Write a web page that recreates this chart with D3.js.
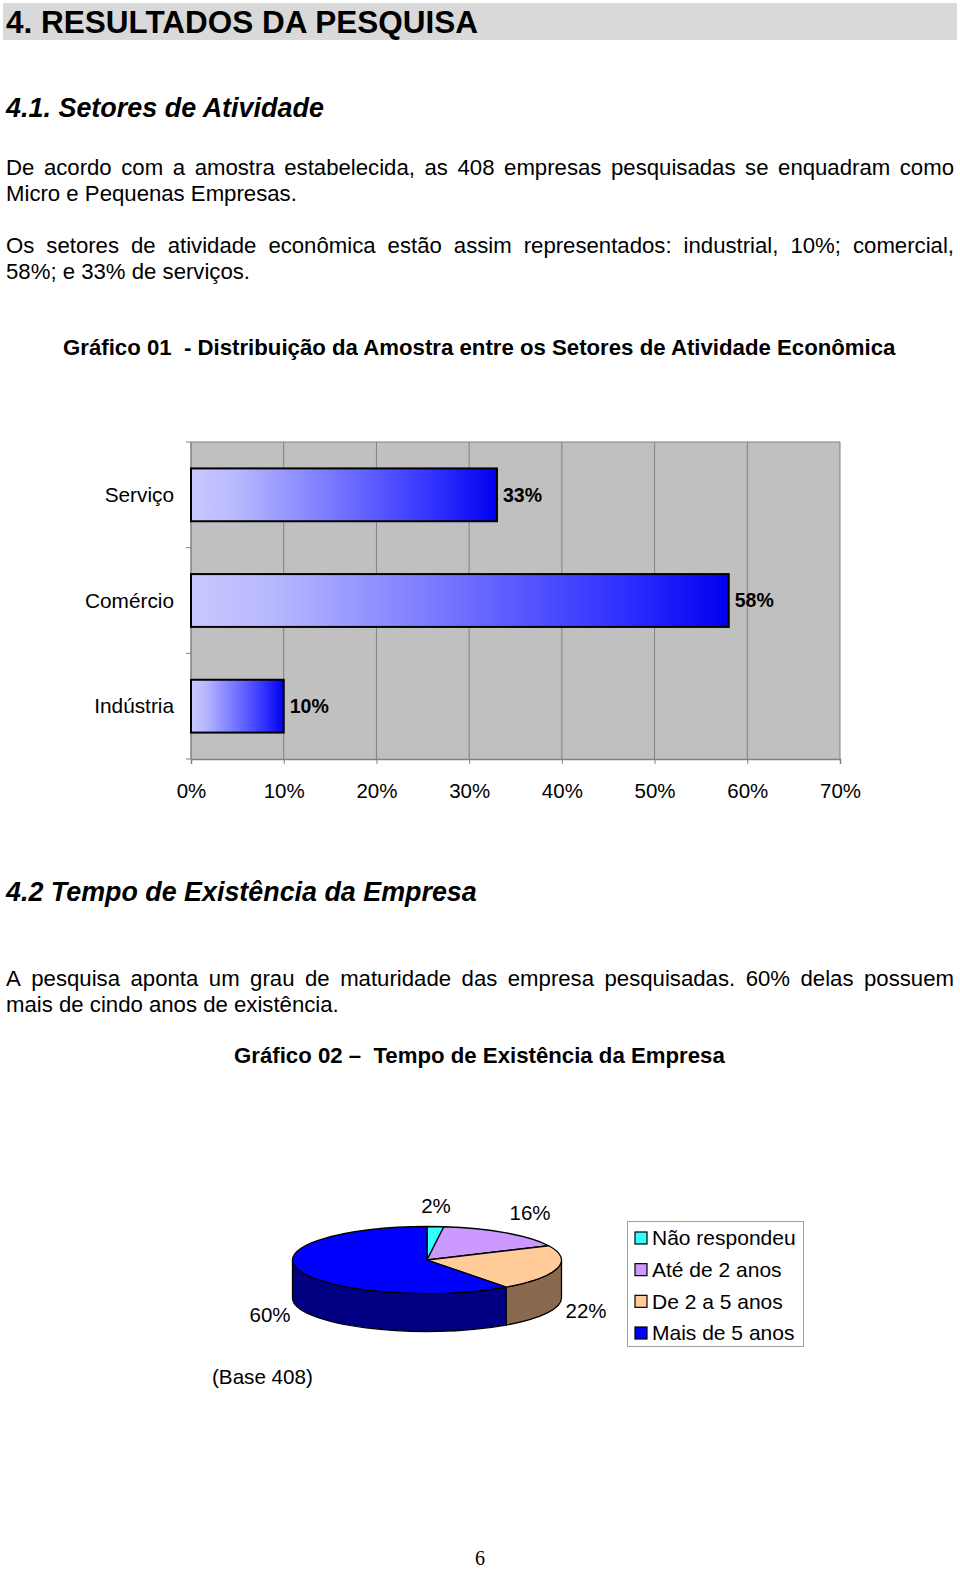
<!DOCTYPE html>
<html><head><meta charset="utf-8">
<script src="https://cdn.jsdelivr.net/npm/d3@7"></script>
<style>
html,body{margin:0;padding:0;background:#fff;}
svg{display:block;font-family:"Liberation Sans",Arial,sans-serif;}
text{white-space:pre;}
</style></head>
<body>
<svg id="page" width="960" height="1569"></svg>
<script>
// ---------- data ----------
const barCategories = ["Serviço", "Comércio", "Indústria"];
const barValues = [0.33, 0.58, 0.10];
const barLabels = ["33%", "58%", "10%"];
const xTicks = [0, 0.1, 0.2, 0.3, 0.4, 0.5, 0.6, 0.7];

const pieCategories = ["Não respondeu", "Até de 2 anos", "De 2 a 5 anos", "Mais de 5 anos"];
const pieValues = [2, 16, 22, 60];
const pieLabels = ["2%", "16%", "22%", "60%"];
const pieTopColors = ["#33ffff", "#cc99ff", "#ffcc99", "#0000ff"];
const pieSideColors = ["#1a8080", "#664c80", "#8a6a4e", "#000080"];

const para1 = ["De acordo com a amostra estabelecida, as 408 empresas pesquisadas se enquadram como", "Micro e Pequenas Empresas."];
const para2 = ["Os setores de atividade econômica estão assim representados: industrial, 10%; comercial,", "58%; e 33% de serviços."];
const para3 = ["A pesquisa aponta um grau de maturidade das empresa pesquisadas. 60% delas possuem", "mais de cindo anos de existência."];

// ---------- helpers ----------
const svg = d3.select("#page");
function fit(sel, w) {
  const l = sel.node().getComputedTextLength();
  const fs = parseFloat(sel.attr("font-size"));
  sel.attr("font-size", fs * w / l);
  return fs * w / l;
}
function plainText(x, y, str, fs, opts = {}) {
  const t = svg.append("text").attr("x", x).attr("y", y).attr("font-size", fs).text(str);
  if (opts.weight) t.attr("font-weight", opts.weight);
  if (opts.style) t.attr("font-style", opts.style);
  if (opts.anchor) t.attr("text-anchor", opts.anchor);
  if (opts.family) t.attr("font-family", opts.family);
  if (opts.width) fit(t, opts.width);
  return t;
}
function justified(str, x0, x1, y, fs) {
  const words = str.split(" ");
  const nodes = words.map(w => svg.append("text").attr("y", y).attr("font-size", fs).text(w));
  const widths = nodes.map(n => n.node().getComputedTextLength());
  const total = d3.sum(widths);
  const gap = (x1 - x0 - total) / (words.length - 1);
  let x = x0;
  nodes.forEach((n, i) => { n.attr("x", x); x += widths[i] + gap; });
}
function paragraph(lines, y0, lh, fs) {
  justified(lines[0], 6, 954, y0, fs);
  plainText(6, y0 + lh, lines[1], fs);
}

// ---------- header ----------
svg.append("rect").attr("x", 3).attr("y", 3).attr("width", 954).attr("height", 37).attr("fill", "#d9d9d9");
plainText(6, 33, "4. RESULTADOS DA PESQUISA", 28, {weight: "bold", width: 472});
plainText(6, 117, "4.1. Setores de Atividade", 24, {weight: "bold", style: "italic", width: 318});

// paragraph font size from a short line
const probe = plainText(6, 201, para1[1], 20, {width: 291});
const pfs = parseFloat(probe.attr("font-size"));
probe.remove();
paragraph(para1, 175, 26, pfs);
paragraph(para2, 253, 26, pfs);

plainText(63, 355, "Gráfico 01  - Distribuição da Amostra entre os Setores de Atividade Econômica", 20, {weight: "bold", width: 833});

// ---------- bar chart ----------
const x = d3.scaleLinear().domain([0, 0.7]).range([191, 840]);
const y = d3.scaleBand().domain(barCategories).range([442, 759]).paddingInner(0.5).paddingOuter(0.25);

const defs = svg.append("defs");
const grad = defs.append("linearGradient").attr("id", "barGrad").attr("x1", "0").attr("x2", "1").attr("y1", "0").attr("y2", "0");
[[0, "#c8c8ff"], [0.15, "#b8b8ff"], [0.5, "#7070ff"], [0.8, "#3030ff"], [1, "#0000ee"]].forEach(([o, c]) =>
  grad.append("stop").attr("offset", o).attr("stop-color", c));

const chart = svg.append("g");
chart.append("rect").attr("x", 191).attr("y", 442).attr("width", 649).attr("height", 317).attr("fill", "#c0c0c0");
chart.append("g").selectAll("line").data(xTicks.slice(1)).join("line")
  .attr("x1", d => x(d)).attr("x2", d => x(d)).attr("y1", 442).attr("y2", 759)
  .attr("stroke", "#808080").attr("stroke-width", 1);
chart.append("line").attr("x1", 191).attr("x2", 840).attr("y1", 442).attr("y2", 442).attr("stroke", "#808080");

// x axis
const xAxis = chart.append("g").attr("transform", "translate(0,759)")
  .call(d3.axisBottom(x).tickValues(xTicks).tickFormat(d3.format(".0%")).tickSize(5).tickPadding(19));
xAxis.select(".domain").attr("stroke", "#808080").attr("stroke-width", 1.5);
xAxis.selectAll(".tick line").attr("stroke", "#808080");
xAxis.selectAll("text").attr("font-size", 20.5).attr("font-family", "Liberation Sans, Arial, sans-serif").attr("fill", "#000");

// y axis with ticks at band boundaries
const step = y.step();
const yAxis = chart.append("g");
yAxis.append("line").attr("x1", 191).attr("x2", 191).attr("y1", 442).attr("y2", 759).attr("stroke", "#808080").attr("stroke-width", 1.5);
yAxis.selectAll("line.tk").data(d3.range(barCategories.length + 1)).join("line").attr("class", "tk")
  .attr("x1", 186).attr("x2", 191).attr("y1", i => 442 + i * step).attr("y2", i => 442 + i * step).attr("stroke", "#808080");
yAxis.selectAll("text").data(barCategories).join("text")
  .attr("x", 174).attr("y", d => y(d) + y.bandwidth() / 2).attr("dy", "0.35em")
  .attr("text-anchor", "end").attr("font-size", 20.8).text(d => d);

// bars
chart.selectAll("rect.bar").data(barValues).join("rect").attr("class", "bar")
  .attr("x", x(0)).attr("y", (d, i) => y(barCategories[i]))
  .attr("width", d => x(d) - x(0)).attr("height", y.bandwidth())
  .attr("fill", "url(#barGrad)").attr("stroke", "#000").attr("stroke-width", 2);
chart.selectAll("text.val").data(barValues).join("text").attr("class", "val")
  .attr("x", d => x(d) + 6).attr("y", (d, i) => y(barCategories[i]) + y.bandwidth() / 2).attr("dy", "0.35em")
  .attr("font-size", 19.5).attr("font-weight", "bold").text((d, i) => barLabels[i]);

// ---------- section 4.2 ----------
plainText(6, 901, "4.2 Tempo de Existência da Empresa", 24, {weight: "bold", style: "italic", width: 471});
paragraph(para3, 986, 26, pfs);
plainText(234, 1063, "Gráfico 02 –  Tempo de Existência da Empresa", 20, {weight: "bold", width: 491});

// ---------- 3D pie ----------
const cx = 427, cy = 1260, rx = 134.5, ry = 33.5, depth = 38;
const pt = (a, dy = 0) => [cx + rx * Math.sin(a), cy - ry * Math.cos(a) + dy];
const arcs = d3.pie().sort(null).value(d => d)(pieValues);
const pg = svg.append("g");
// sides (front half: angles between PI/2 and 3PI/2)
arcs.forEach((a, i) => {
  const s = Math.max(a.startAngle, Math.PI / 2), e = Math.min(a.endAngle, 3 * Math.PI / 2);
  if (e <= s) return;
  const p0 = pt(s), p1 = pt(e), p2 = pt(e, depth), p3 = pt(s, depth);
  const large = (e - s) > Math.PI ? 1 : 0;
  const d = `M${p0}A${rx},${ry} 0 ${large} 1 ${p1}L${p2}A${rx},${ry} 0 ${large} 0 ${p3}Z`;
  pg.append("path").attr("d", d).attr("fill", pieSideColors[i]).attr("stroke", "#000").attr("stroke-width", 1.3).attr("stroke-linejoin", "round");
});
// tops
arcs.forEach((a, i) => {
  const p0 = pt(a.startAngle), p1 = pt(a.endAngle);
  const large = (a.endAngle - a.startAngle) > Math.PI ? 1 : 0;
  const d = `M${cx},${cy}L${p0}A${rx},${ry} 0 ${large} 1 ${p1}Z`;
  pg.append("path").attr("d", d).attr("fill", pieTopColors[i]).attr("stroke", "#000").attr("stroke-width", 1.3).attr("stroke-linejoin", "round");
});
// labels
const labelPos = [[436, 1206], [530, 1213], [586, 1311], [270, 1315]];
pg.selectAll("text").data(pieLabels).join("text")
  .attr("x", (d, i) => labelPos[i][0]).attr("y", (d, i) => labelPos[i][1]).attr("dy", "0.35em")
  .attr("text-anchor", "middle").attr("font-size", 20.5).text(d => d);

// legend
const lg = svg.append("g");
lg.append("rect").attr("x", 627.5).attr("y", 1221.5).attr("width", 176).attr("height", 125).attr("fill", "#fff").attr("stroke", "#a0a0a0").attr("stroke-width", 1);
const rowY = d3.scalePoint().domain(pieCategories).range([1238, 1333]);
lg.selectAll("rect.sw").data(pieCategories).join("rect").attr("class", "sw")
  .attr("x", 635).attr("y", d => rowY(d) - 6).attr("width", 12).attr("height", 12)
  .attr("fill", (d, i) => pieTopColors[i]).attr("stroke", "#000").attr("stroke-width", 1.2);
lg.selectAll("text").data(pieCategories).join("text")
  .attr("x", 652).attr("y", d => rowY(d)).attr("dy", "0.35em").attr("font-size", 21).text(d => d);

plainText(212, 1384, "(Base 408)", 20, {width: 101});
plainText(480, 1565, "6", 20, {anchor: "middle", family: "Liberation Serif, serif"});
</script>
</body></html>
